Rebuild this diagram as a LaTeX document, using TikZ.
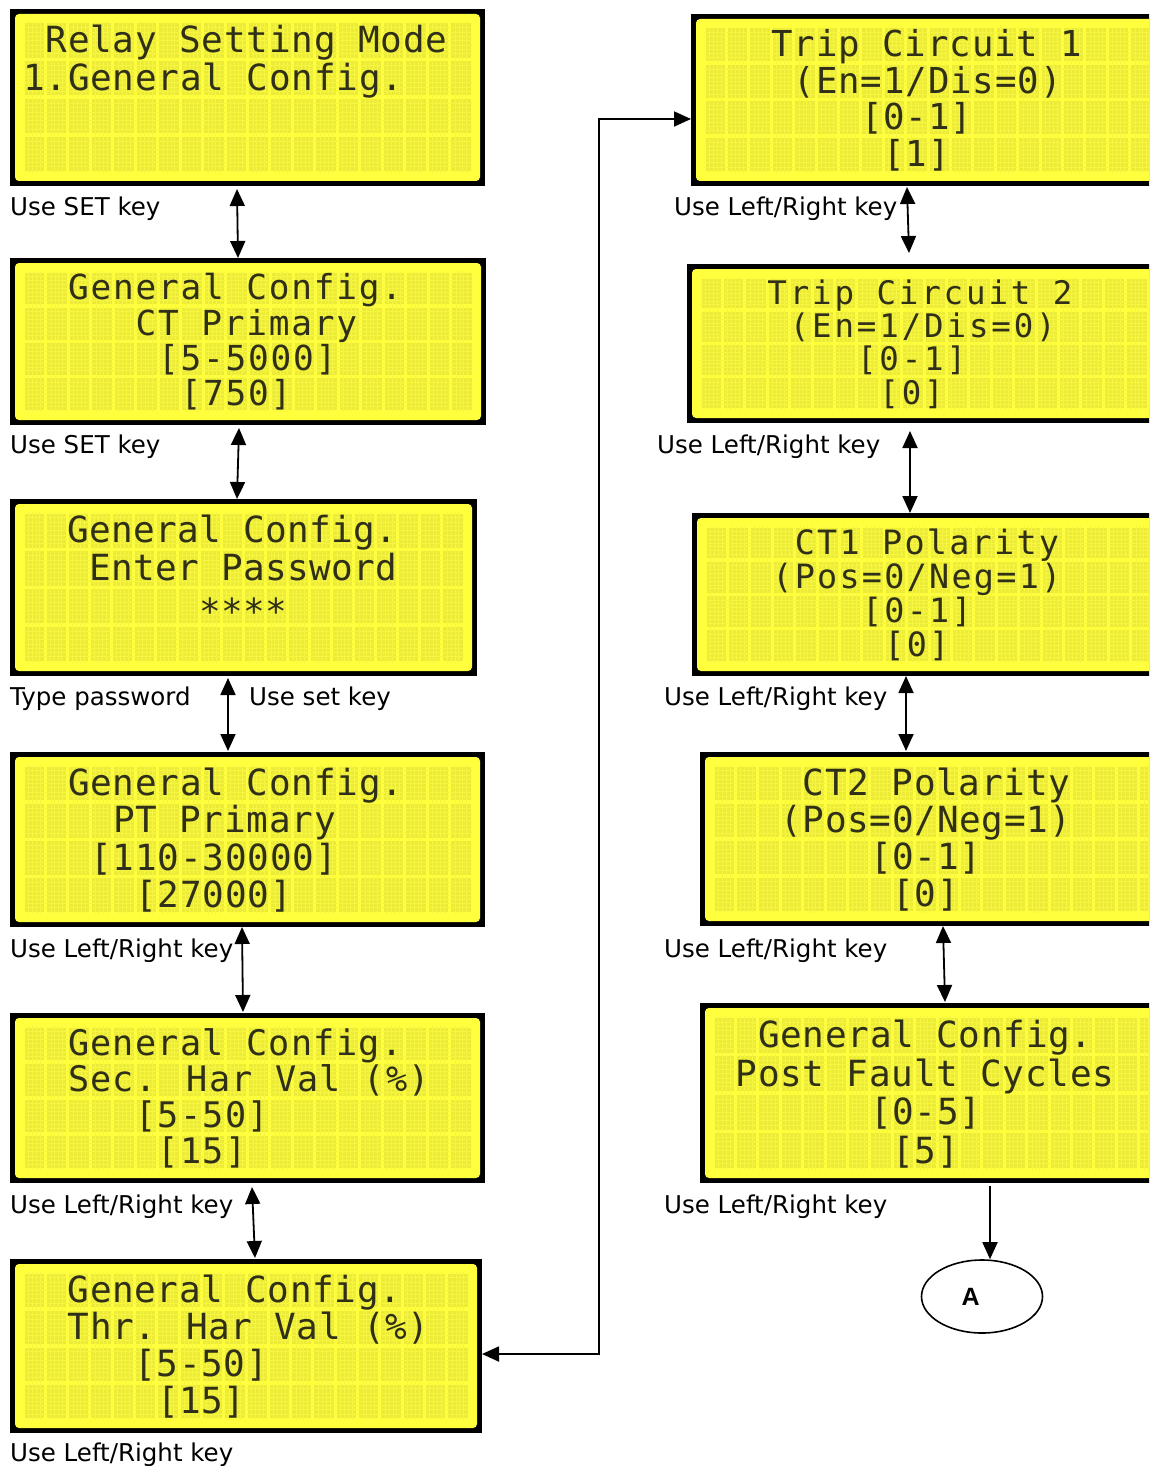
\documentclass[tikz,border=0pt]{standalone}
\usepackage{fontspec}
\setmainfont{DejaVu Sans}
\newfontfamily\lcdfont{DejaVu Sans Mono}
\newfontfamily\ellfont{Liberation Sans}
\usetikzlibrary{arrows.meta,shapes.geometric,calc}
\definecolor{lcdbg}{RGB}{255,255,62}
\definecolor{lcdcell}{RGB}{236,236,56}
\definecolor{lcddot}{RGB}{246,246,64}
\definecolor{lcdink}{RGB}{48,48,24}
\tikzset{
  frame/.style={fill=black, draw=none, rectangle, inner sep=0pt, outer sep=0pt, anchor=north west},
  lcdtext/.style={text=lcdink, anchor=base west, inner sep=0pt},
  lbl/.style={font=\fontsize{24.5}{28}\selectfont, anchor=base west, inner sep=0pt},
  >={Triangle[length=17pt,width=15pt]},
  conn/.style={line width=1.8pt, <->},
  conn1/.style={line width=1.8pt, ->},
}
\newcommand\lcdpanel[5]{%
  \node[frame, minimum width=#4pt, minimum height=#5pt] (#1) at (#2,#3) {};
  \pgfmathsetmacro\lx{#2+5}\pgfmathsetmacro\ly{#3+5}%
  \pgfmathsetmacro\rx{#2+#4-5}\pgfmathsetmacro\ry{#3+#5-5}%
  \fill[lcdbg, rounded corners=4pt] (\lx,\ly) rectangle (\rx,\ry);
  \pgfmathsetmacro\gx{#2+13}\pgfmathsetmacro\gy{#3+13}%
  \pgfmathsetmacro\cp{(#4-26)/20}\pgfmathsetmacro\rp{(#5-26)/4}%
  \pgfmathsetmacro\cw{\cp-3}\pgfmathsetmacro\ch{\rp-3.5}%
  \pgfmathsetmacro\gh{4*\rp}\pgfmathsetmacro\gw{20*\cp}%
  \pgfmathsetmacro\fs{min(36,\rp-0.8)}%
  \pgfmathsetmacro\ls{(\cp/\fs-0.602)*100}%
  \expandafter\xdef\csname lcdcp@#1\endcsname{\cp}%
  \expandafter\xdef\csname lcdrp@#1\endcsname{\rp}%
  \expandafter\xdef\csname lcdfs@#1\endcsname{\fs}%
  \expandafter\xdef\csname lcdls@#1\endcsname{\ls}%
  \coordinate (#1-g) at (\gx,\gy);
  \foreach \c in {0,...,19}{\foreach \r in {0,...,3}{%
    \fill[lcdcell] (\gx+\c*\cp+1.5,\gy+\r*\rp+1.5) rectangle ++(\cw,\ch);
  }}
  \foreach \c in {0,...,19}{\foreach \k in {1,...,4}{%
    \draw[lcddot, line width=0.6pt] (\gx+\c*\cp+1.5+\k*\cw/5,\gy) -- ++(0,\gh);
  }}
  \foreach \r in {0,...,3}{\foreach \k in {1,...,7}{%
    \draw[lcddot, line width=0.6pt] (\gx,\gy+\r*\rp+1.5+\k*\ch/8) -- ++(\gw,0);
  }}
}
\newcommand\lcd[4]{%
  \edef\tcp{\csname lcdcp@#1\endcsname}\edef\trp{\csname lcdrp@#1\endcsname}%
  \edef\tfs{\csname lcdfs@#1\endcsname}\edef\tls{\csname lcdls@#1\endcsname}%
  \pgfmathsetmacro\toff{(\tcp-(\tfs*(0.602+\tls/100)))/2}%
  \path (#1-g) ++({#3*\tcp+\toff},{(#2+0.82)*\trp}) node[lcdtext,
     font={\lcdfont\edef\tmp{\noexpand\addfontfeature{LetterSpace=\tls}}\tmp\fontsize{\tfs}{\tfs}\selectfont}] {#4};
}
\begin{document}
\begin{tikzpicture}[x=1pt,y=-1pt]
\useasboundingbox (0,0) rectangle (1149,1466);
\clip (0,0) rectangle (1149,1466);
\fill[white] (0,0) rectangle (1149,1466);

% left column
\lcdpanel{p1}{10}{9}{475}{177}
\lcd{p1}{0}{1}{Relay Setting Mode}
\lcd{p1}{1}{0}{1.General Config.}

\lcdpanel{p2}{10}{258}{476}{167}
\lcd{p2}{0}{2}{General Config.}
\lcd{p2}{1}{5}{CT Primary}
\lcd{p2}{2}{6}{[5-5000]}
\lcd{p2}{3}{7}{[750]}

\lcdpanel{p3}{10}{499}{467}{177}
\lcd{p3}{0}{2}{General Config.}
\lcd{p3}{1}{3}{Enter Password}
\lcd{p3}{2}{8}{\raisebox{-6pt}{****}}

\lcdpanel{p4}{10}{752}{475}{175}
\lcd{p4}{0}{2}{General Config.}
\lcd{p4}{1}{4}{PT Primary}
\lcd{p4}{2}{3}{[110-30000]}
\lcd{p4}{3}{5}{[27000]}

\lcdpanel{p5}{10}{1013}{475}{170}
\lcd{p5}{0}{2}{General Config.}
\lcd{p5}{1}{2}{Sec. Har Val (\%)}
\lcd{p5}{2}{5}{[5-50]}
\lcd{p5}{3}{6}{[15]}

\lcdpanel{p6}{10}{1259}{472}{174}
\lcd{p6}{0}{2}{General Config.}
\lcd{p6}{1}{2}{Thr. Har Val (\%)}
\lcd{p6}{2}{5}{[5-50]}
\lcd{p6}{3}{6}{[15]}

% right column
\lcdpanel{r1}{691}{14}{474}{172}
\lcd{r1}{0}{3}{Trip Circuit 1}
\lcd{r1}{1}{4}{(En=1/Dis=0)}
\lcd{r1}{2}{7}{[0-1]}
\lcd{r1}{3}{8}{[1]}

\lcdpanel{r2}{687}{264}{474}{159}
\lcd{r2}{0}{3}{Trip Circuit 2}
\lcd{r2}{1}{4}{(En=1/Dis=0)}
\lcd{r2}{2}{7}{[0-1]}
\lcd{r2}{3}{8}{[0]}

\lcdpanel{r3}{692}{513}{474}{163}
\lcd{r3}{0}{4}{CT1 Polarity}
\lcd{r3}{1}{3}{(Pos=0/Neg=1)}
\lcd{r3}{2}{7}{[0-1]}
\lcd{r3}{3}{8}{[0]}

\lcdpanel{r4}{700}{752}{474}{174}
\lcd{r4}{0}{4}{CT2 Polarity}
\lcd{r4}{1}{3}{(Pos=0/Neg=1)}
\lcd{r4}{2}{7}{[0-1]}
\lcd{r4}{3}{8}{[0]}

\lcdpanel{r5}{700}{1003}{474}{180}
\lcd{r5}{0}{2}{General Config.}
\lcd{r5}{1}{1}{Post Fault Cycles}
\lcd{r5}{2}{7}{[0-5]}
\lcd{r5}{3}{8}{[5]}

% ellipse A
\node[draw, ellipse, line width=1.6pt, minimum width=121pt, minimum height=73pt, inner sep=0pt,
      font=\ellfont\bfseries\fontsize{25}{25}\selectfont] (A) at (982,1296.5) {\makebox[41pt][l]{A}};

% labels
\node[lbl] (l1) at (10,215) {Use SET key};
\node[lbl] (l2) at (10,453) {Use SET key};
\node[lbl] (l3) at (10,705) {Type password};
\node[lbl] (l3b) at (249,705) {Use set key};
\node[lbl] (l4) at (10,957) {Use Left/Right key};
\node[lbl] (l5) at (10,1213) {Use Left/Right key};
\node[lbl] (l6) at (10,1461) {Use Left/Right key};
\node[lbl] (m1) at (674,215) {Use Left/Right key};
\node[lbl] (m2) at (657,453) {Use Left/Right key};
\node[lbl] (m3) at (664,705) {Use Left/Right key};
\node[lbl] (m4) at (664,957) {Use Left/Right key};
\node[lbl] (m5) at (664,1213) {Use Left/Right key};

% connectors
\draw[conn] ($(p1.south west)+(227,3)$) -- ($(p2.north west)+(228,0)$);
\draw[conn] ($(p2.south west)+(229,3)$) -- ($(p3.north west)+(227,0)$);
\draw[conn] ($(p3.south west)+(218,2)$) -- ($(p4.north west)+(218,-1)$);
\draw[conn] ($(p4.south west)+(232,0)$) -- ($(p5.north west)+(233,-1)$);
\draw[conn] ($(p5.south west)+(242,4)$) -- ($(p6.north west)+(245,-1)$);
\draw[conn] ([yshift=-8pt]p6.east) -- ++(117,0) |- ([yshift=-19pt]r1.west);
\draw[conn] ($(r1.south west)+(216,1)$) -- ($(r2.north west)+(222,-11)$);
\draw[conn] ($(r2.south west)+(223,8)$) -- ($(r3.north west)+(218,0)$);
\draw[conn] ($(r3.south west)+(214,0)$) -- ($(r4.north west)+(206,-1)$);
\draw[conn] ($(r4.south west)+(243,0)$) -- ($(r5.north west)+(245,-1)$);
\draw[conn1] ($(r5.south west)+(290,3)$) -- ([xshift=8pt]A.north);
\end{tikzpicture}
\end{document}
